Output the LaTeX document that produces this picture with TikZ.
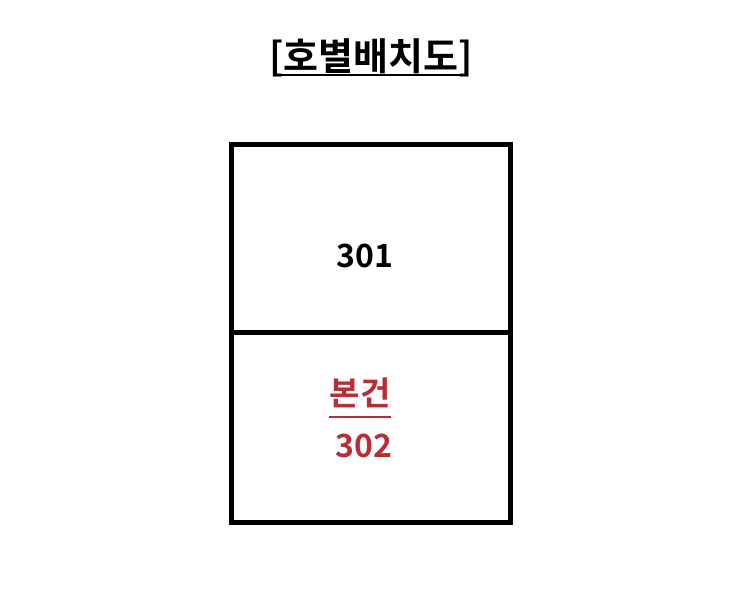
\documentclass[tikz,border=0pt]{standalone}
\usepackage{fontspec}
\newfontfamily\kr{Noto Sans CJK KR}[BoldFont={Noto Sans CJK KR Bold}]
\definecolor{redtxt}{RGB}{185,45,55}
\begin{document}
\begin{tikzpicture}[x=1pt,y=-1pt,
  cell/.style={draw=black,line width=5pt},
  lbl/.style={font=\kr\bfseries\fontsize{32}{36}\selectfont,inner sep=0pt},
  ]
\useasboundingbox[fill=white] (0,0) rectangle (735,600);
\node[lbl,anchor=base,font=\kr\bfseries\fontsize{38}{42}\selectfont] (title) at (371,70) {[호별배치도]};
\draw[line width=1.5pt] ([xshift=4pt,yshift=-5pt]title.base west) coordinate (ul1) -- ([xshift=-6pt,yshift=-5pt]title.base east) coordinate (ul2);
\draw[cell] (231,144) coordinate (tl) rectangle (510,332) coordinate (m);
\draw[cell] (231,332) rectangle (510,522) coordinate (br);
\node[lbl,anchor=base] (n301) at (365,267) {301};
\node[lbl,anchor=base,text=redtxt,font=\kr\bfseries\fontsize{33}{36}\selectfont] (bon) at (360,405) {본건};
\draw[line width=1.5pt,draw=redtxt] ([yshift=-12pt]bon.base west) -- ([yshift=-12pt]bon.base east);
\node[lbl,anchor=base,text=redtxt] (n302) at (364,457) {302};
\end{tikzpicture}
\end{document}
